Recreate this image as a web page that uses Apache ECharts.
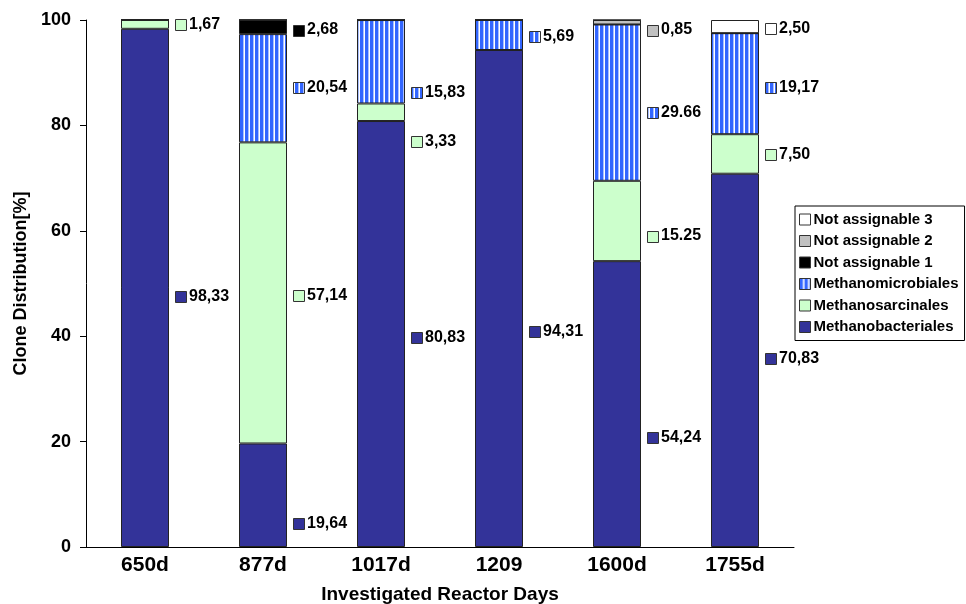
<!DOCTYPE html>
<html>
<head>
<meta charset="utf-8">
<script src="https://cdn.jsdelivr.net/npm/echarts@6/dist/echarts.min.js"></script>
<style>
html,body{margin:0;padding:0;background:#fff;}
#chart{width:966px;height:604px;}
</style>
</head>
<body>
<div id="chart"></div>
<script>
// ---- data ----
const categories = ['650d', '877d', '1017d', '1209', '1600d', '1755d'];
const methanobacteriales = [98.33, 19.64, 80.83, 94.31, 54.24, 70.83];
const methanosarcinales = [1.67, 57.14, 3.33, 0, 15.25, 7.50];
const methanomicrobiales = [0, 20.54, 15.83, 5.69, 29.66, 19.17];
const notAssignable1 = [0, 2.68, 0, 0, 0, 0];
const notAssignable2 = [0, 0, 0, 0, 0.85, 0];
const notAssignable3 = [0, 0, 0, 0, 0, 2.50];
const yTicks = [0, 20, 40, 60, 80, 100];

// value labels: category index, series index, text, y value where the label sits
const labelCat    = [0, 0, 1, 1, 1, 1, 2, 2, 2, 3, 3, 4, 4, 4, 4, 5, 5, 5, 5];
const labelSeries = [1, 0, 3, 2, 1, 0, 2, 1, 0, 2, 0, 4, 2, 1, 0, 5, 2, 1, 0];
const labelText   = ['1,67', '98,33', '2,68', '20,54', '57,14', '19,64', '15,83', '3,33', '80,83',
                     '5,69', '94,31', '0,85', '29.66', '15.25', '54,24', '2,50', '19,17', '7,50', '70,83'];
const labelY      = [99.2, 47.6, 98.1, 87.1, 47.8, 4.4, 86.3, 77.0, 39.8,
                     96.8, 40.8, 98.1, 82.5, 59.0, 20.7, 98.3, 87.1, 74.4, 35.7];

// ---- styles ----
const stripe = document.createElement('canvas');
stripe.width = 5; stripe.height = 10;
(function(){
  const c = stripe.getContext('2d');
  c.fillStyle = '#ffffff'; c.fillRect(0, 0, 5, 10);
  c.fillStyle = '#3366ff'; c.fillRect(0, 0, 3, 10);
  c.fillStyle = '#a8bfff'; c.fillRect(3, 0, 1, 10);
})();
const stripePattern = { image: stripe, repeat: 'repeat' };

const seriesNames = ['Methanobacteriales', 'Methanosarcinales', 'Methanomicrobiales',
                     'Not assignable 1', 'Not assignable 2', 'Not assignable 3'];
const seriesData = [methanobacteriales, methanosarcinales, methanomicrobiales,
                    notAssignable1, notAssignable2, notAssignable3];
const seriesColors = ['#333399', '#ccffcc', stripePattern, '#000000', '#c0c0c0', '#ffffff'];

const FONT = '"Liberation Sans", Arial, sans-serif';
const BAR_W = 48;

const series = seriesData.map((d, i) => ({
  name: seriesNames[i],
  type: 'bar',
  stack: 'total',
  barWidth: BAR_W,
  data: d,
  itemStyle: { color: seriesColors[i], borderColor: '#222', borderWidth: 1 },
  emphasis: { disabled: true }
}));

const labelData = labelCat.map((c, k) => [c, labelY[k], labelSeries[k], labelText[k]]);

series.push({
  type: 'custom',
  name: 'labels',
  z: 10,
  data: labelData,
  encode: { x: 0, y: 1 },
  renderItem: function (params, api) {
    const p = api.coord([api.value(0), api.value(1)]);
    const s = api.value(2);
    const idx = params.dataIndex;
    const x0 = p[0] + BAR_W / 2 + 6;
    return {
      type: 'group',
      children: [
        { type: 'rect', shape: { x: Math.round(x0) + 0.5, y: Math.round(p[1] - 5.5) + 0.5, width: 11, height: 11 },
          style: { fill: seriesColors[s], stroke: '#333', lineWidth: 1 } },
        { type: 'text', x: x0 + 14, y: p[1],
          style: { text: labelText[idx], font: 'bold 16px ' + FONT, fill: '#000',
                   textVerticalAlign: 'middle', verticalAlign: 'middle', textAlign: 'left' } }
      ]
    };
  }
});

const chart = echarts.init(document.getElementById('chart'), null, { renderer: 'canvas' });
chart.setOption({
  animation: false,
  backgroundColor: '#ffffff',
  grid: { left: 86, right: 172, top: 20, bottom: 57, containLabel: false, outerBoundsMode: 'none' },
  legend: {
    orient: 'vertical',
    left: 795, top: 206,
    data: ['Not assignable 3', 'Not assignable 2', 'Not assignable 1',
           'Methanomicrobiales', 'Methanosarcinales', 'Methanobacteriales'],
    icon: 'rect',
    itemWidth: 11, itemHeight: 11, itemGap: 6.5,
    padding: [6, 6, 6, 4],
    borderColor: '#000', borderWidth: 1,
    backgroundColor: '#fff',
    selectedMode: false,
    itemStyle: { borderColor: '#333', borderWidth: 1 },
    textStyle: { fontFamily: FONT, fontWeight: 'bold', fontSize: 15, color: '#000', padding: [0, 0, 0, -2] }
  },
  xAxis: {
    type: 'category',
    data: categories,
    name: 'Investigated Reactor Days',
    nameLocation: 'middle',
    nameGap: 38,
    nameTextStyle: { fontFamily: FONT, fontWeight: 'bold', fontSize: 19, color: '#000' },
    axisLine: { lineStyle: { color: '#000', width: 1 } },
    axisTick: { show: false },
    axisLabel: { fontFamily: FONT, fontWeight: 'bold', fontSize: 21, color: '#000', margin: 8 }
  },
  yAxis: {
    type: 'value',
    min: yTicks[0], max: yTicks[yTicks.length - 1], interval: 20,
    name: 'Clone Distribution[%]',
    nameLocation: 'middle',
    nameGap: 55,
    nameTextStyle: { fontFamily: FONT, fontWeight: 'bold', fontSize: 18, color: '#000' },
    axisLine: { show: true, lineStyle: { color: '#000', width: 1 } },
    axisTick: { show: true, length: 6, lineStyle: { color: '#000' } },
    splitLine: { show: false },
    axisLabel: { fontFamily: FONT, fontWeight: 'bold', fontSize: 18, color: '#000', margin: 15 }
  },
  series: series
});
</script>
</body>
</html>
